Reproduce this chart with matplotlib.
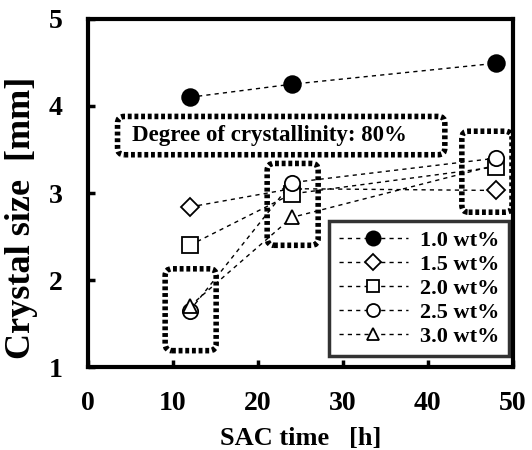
import matplotlib
matplotlib.use("Agg")
import matplotlib.pyplot as plt
from matplotlib.patches import FancyBboxPatch
from matplotlib.lines import Line2D

plt.rcParams['font.family'] = ['Liberation Serif', 'DejaVu Serif']
plt.rcParams['font.weight'] = 'bold'

sac_time = [12, 24, 48]
labels = ["1.0 wt%", "1.5 wt%", "2.0 wt%", "2.5 wt%", "3.0 wt%"]
size_10 = [4.10, 4.25, 4.49]
size_15 = [2.84, 3.05, 3.03]
size_20 = [2.40, 2.99, 3.30]
size_25 = [1.65, 3.12, 3.40]
size_30 = [1.70, 2.72, 3.32]
series = [size_10, size_15, size_20, size_25, size_30]
markers = ['o', 'D', 's', 'o', '^']
msizes = [12, 9.5, 11, 11, 10.5]
fills = ['black', 'white', 'white', 'white', 'white']
zords = [3.0, 3.0, 3.1, 3.2, 3.3]

xticks = [0, 10, 20, 30, 40, 50]
yticks = [1, 2, 3, 4, 5]

fig = plt.figure(figsize=(5.32, 4.5), dpi=100)
ax = fig.add_axes([0.165, 0.184, 0.799, 0.774])

DASH = (0, (3, 3))
handles = []
for i, (vals, m, ms, fc, lab, z) in enumerate(zip(series, markers, msizes, fills, labels, zords)):
    ax.plot(sac_time, vals, linestyle=DASH, color='black', lw=1.0, zorder=2.5)
    if m == '^':
        # last triangle sits hidden behind the square in the original
        ax.plot(sac_time, vals, linestyle='none', marker=m, markersize=ms,
                markerfacecolor=fc, markeredgecolor='black', markeredgewidth=1.3,
                markevery=[0, 1], zorder=z)
        ax.plot(sac_time, vals, linestyle='none', marker=m, markersize=ms,
                markerfacecolor=fc, markeredgecolor='black', markeredgewidth=1.3,
                markevery=[2], zorder=3.05)
    else:
        ax.plot(sac_time, vals, linestyle='none', marker=m, markersize=ms,
                markerfacecolor=fc, markeredgecolor='black', markeredgewidth=1.3,
                zorder=z)
    handles.append(Line2D([], [], linestyle=DASH, color='black', lw=1.0, marker=m,
                          markersize=ms * 0.85, markerfacecolor=fc,
                          markeredgecolor='black', markeredgewidth=1.3))

ax.set_xlim(0, 50)
ax.set_ylim(1, 5)
ax.set_xticks(xticks)
ax.set_yticks(yticks)
ax.tick_params(direction='in', length=5, width=2.5, labelsize=20)
ax.tick_params(axis='x', pad=17)
ax.tick_params(axis='y', pad=18)
for lbl in ax.get_xticklabels() + ax.get_yticklabels():
    lbl.set_fontweight('bold')
for s in ax.spines.values():
    s.set_linewidth(3)

ax.set_xlabel("SAC time   [h]", fontsize=19, fontweight='bold', labelpad=8)
ax.set_ylabel("Crystal size  [mm]", fontsize=26, fontweight='bold')
ax.yaxis.set_label_coords(-0.118, 0.43)

def dbox(x0, y0, x1, y1):
    p = FancyBboxPatch((x0, y0), x1 - x0, y1 - y0,
                       boxstyle="round,pad=0,rounding_size=0.8",
                       mutation_aspect=0.1,
                       fill=False, edgecolor='black', lw=4,
                       linestyle=(0, (0.7, 0.5)), zorder=2)
    ax.add_patch(p)

dbox(3.5, 3.44, 42.0, 3.88)
dbox(9.1, 1.19, 15.1, 2.13)
dbox(21.1, 2.40, 27.1, 3.34)
dbox(44.0, 2.78, 49.9, 3.71)

ax.text(21.4, 3.66, "Degree of crystallinity: 80%", ha='center', va='center',
        fontsize=16.5, fontweight='bold')

leg = ax.legend(handles, labels, loc='lower right', bbox_to_anchor=(0.99, 0.032),
                borderaxespad=0, frameon=True, fancybox=False, edgecolor='black',
                handlelength=3.1, handletextpad=0.55, labelspacing=0.15,
                borderpad=0.42, prop={'weight': 'bold', 'size': 16})
leg.get_frame().set_linewidth(2.5)
leg.set_zorder(5)

fig.savefig("out.png", dpi=100)
